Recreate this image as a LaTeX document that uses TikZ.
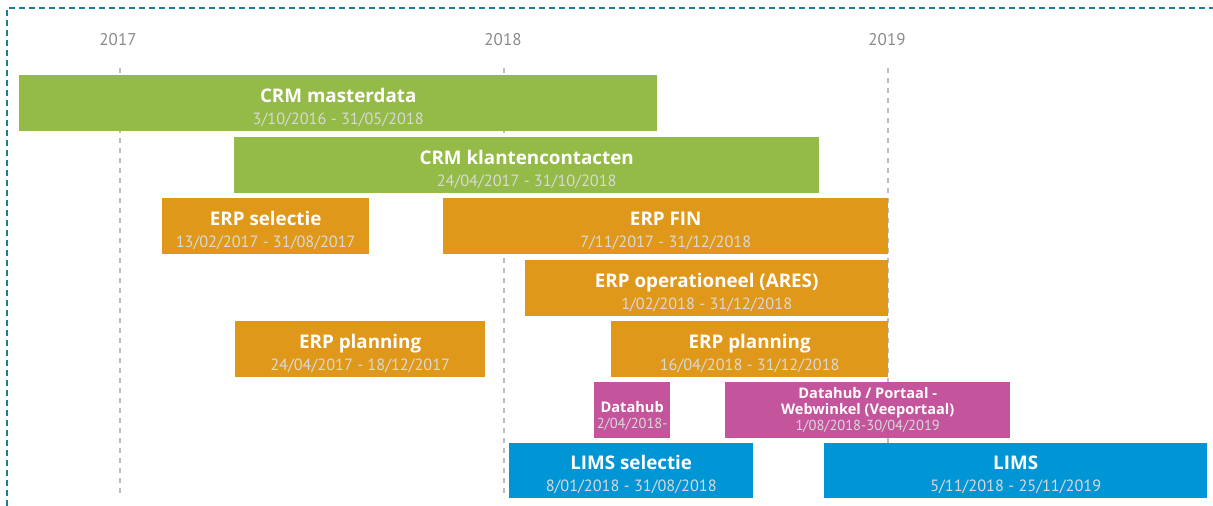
\documentclass[tikz,border=0pt]{standalone}
\usepackage{fontspec}
\setmainfont{PT Sans}
\newfontfamily\titlefont{Open Sans}
\definecolor{cgreen}{HTML}{94BA47}
\definecolor{corange}{HTML}{E0981A}
\definecolor{cmag}{HTML}{C4559D}
\definecolor{cblue}{HTML}{0096D6}
\definecolor{cteal}{HTML}{1A7F93}
\definecolor{cgrid}{HTML}{BDBDBD}
\definecolor{cyear}{HTML}{8A8A8A}
\newcommand{\ttl}[1]{{\titlefont\fontsize{18.8}{22}\selectfont\bfseries\rule{0pt}{22pt}#1}}
\newcommand{\dte}[1]{{\fontsize{16.3}{22}\selectfont\color{white!85!black}#1}}
\newcommand{\sttl}[1]{{\titlefont\fontsize{14.6}{16}\selectfont\bfseries #1}}
\newcommand{\sdte}[1]{{\fontsize{14.5}{16}\selectfont\color{white!85!black}#1}}
\tikzset{
  bar/.style={anchor=north west, inner sep=0pt, text=white, align=center, minimum height=56pt, font=\fontsize{16}{22}\selectfont},
  sbar/.style={bar, font=\fontsize{13}{16}\selectfont},
  gridline/.style={cgrid, line width=1.6pt, dash pattern=on 5pt off 5pt},
  yearlbl/.style={text=cyear, font=\fontsize{17}{20}\selectfont}
}
\begin{document}
\begin{tikzpicture}[x=1pt,y=-1pt]
\useasboundingbox (0,0) rectangle (1213,506);
\draw[cteal, line width=2pt, dash pattern=on 6pt off 4pt] (7,506) -- (7,8) -- (1213,8);
% years
\node[yearlbl] (y17) at (118,40) {2017};
\node[yearlbl] (y18) at (503,40) {2018};
\node[yearlbl] (y19) at (887,40) {2019};
\coordinate (b17) at (120,498);
\coordinate (b18) at (504,498);
\coordinate (b19) at (888,498);
\draw[gridline] (b17 |- 0,68) -- (b17);
\draw[gridline] (b18 |- 0,68) -- (b18);
\draw[gridline] (b19 |- 0,68) -- (b19);
% bars
\node[bar, fill=cgreen, minimum width=638pt] (crmm) at (19,75) {\ttl{CRM masterdata}\\\dte{3/10/2016 - 31/05/2018}};
\node[bar, fill=cgreen, minimum width=585pt] (crmk) at (234,137) {\ttl{CRM klantencontacten}\\\dte{24/04/2017 - 31/10/2018}};
\node[bar, fill=corange, minimum width=207pt] (erps) at (162,198) {\ttl{ERP selectie}\\\dte{13/02/2017 - 31/08/2017}};
\node[bar, fill=corange, minimum width=445pt] (erpf) at (443,198) {\ttl{ERP FIN}\\\dte{7/11/2017 - 31/12/2018}};
\node[bar, fill=corange, minimum width=363pt] (erpo) at (525,260) {\ttl{ERP operationeel (ARES)}\\\dte{1/02/2018 - 31/12/2018}};
\node[bar, fill=corange, minimum width=250pt] (erpp1) at (235,321) {\ttl{ERP planning}\\\dte{24/04/2017 - 18/12/2017}};
\node[bar, fill=corange, minimum width=277pt] (erpp2) at (611,321) {\ttl{ERP planning}\\\dte{16/04/2018 - 31/12/2018}};
\node[sbar, fill=cmag, minimum width=76pt] (dh) at (594,382) {\sttl{\rule{0pt}{22pt}Datahub}\\\sdte{2/04/2018-}};
\node[sbar, fill=cmag, minimum width=285pt] (dhp) at (725,382) {\sttl{Datahub / Portaal -}\\\sttl{Webwinkel (Veeportaal)}\\\sdte{1/08/2018-30/04/2019}};
\node[bar, fill=cblue, minimum width=244pt, minimum height=55pt] (limss) at (509,443) {\ttl{LIMS selectie}\\\dte{8/01/2018 - 31/08/2018}};
\node[bar, fill=cblue, minimum width=383pt, minimum height=55pt] (lims) at (824,443) {\ttl{LIMS}\\\dte{5/11/2018 - 25/11/2019}};
\end{tikzpicture}
\end{document}
